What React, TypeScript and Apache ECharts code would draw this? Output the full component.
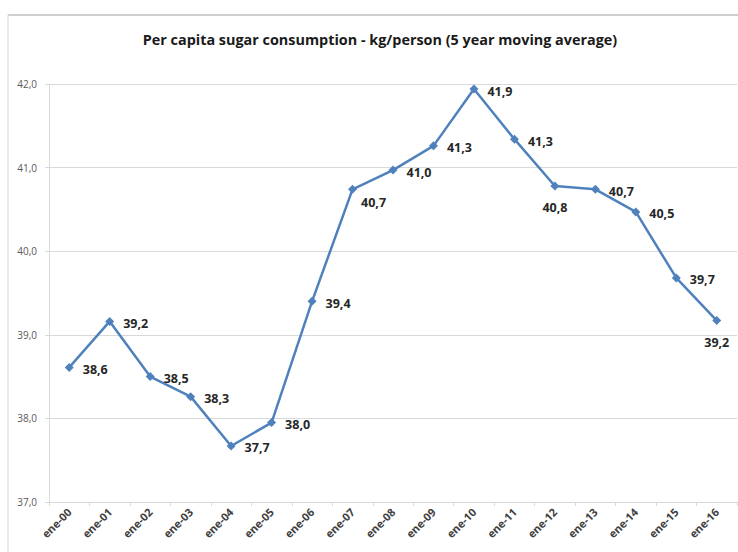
import React, { useEffect, useRef } from "react";
import * as echarts from "echarts";

const TITLE = "Per capita sugar consumption - kg/person (5 year moving average)";
const categories = [
  "ene-00", "ene-01", "ene-02", "ene-03", "ene-04", "ene-05", "ene-06", "ene-07", "ene-08",
  "ene-09", "ene-10", "ene-11", "ene-12", "ene-13", "ene-14", "ene-15", "ene-16",
];
const values = [
  38.61, 39.16, 38.5, 38.26, 37.67, 37.95, 39.4, 40.74, 40.97,
  41.26, 41.94, 41.34, 40.78, 40.74, 40.47, 39.68, 39.17,
];
const yMin = 37;
const yMax = 42;
const yStep = 1;

const fmt = (v: number) => v.toFixed(1).replace(".", ",");

export default function App() {
  const ref = useRef<HTMLDivElement>(null);
  useEffect(() => {
    if (!ref.current) return;
    const chart = echarts.init(ref.current, null, { renderer: "svg" });
    const FONT = "'Open Sans', sans-serif";
    const data = values.map((v, i) => {
      const item: any = { value: v };
      if (i === 7) {
        item.label = { position: "right", offset: [-5, 13] };
      } else if (i === 12 || i === 16) {
        item.label = { position: "bottom", distance: 9 };
      }
      return item;
    });
    chart.setOption({
      animation: false,
      backgroundColor: "#ffffff",
      textStyle: { fontFamily: FONT },
      title: {
        text: TITLE,
        left: 375,
        top: 27,
        textAlign: "center",
        textStyle: { fontFamily: FONT, fontSize: 14.4, fontWeight: "bold", color: "#1a1a1a" },
      },
      graphic: [
        { type: "line", shape: { x1: 8, y1: 15, x2: 738, y2: 15 }, style: { stroke: "#cfcfcf", lineWidth: 2 } },
        { type: "line", shape: { x1: 8, y1: 15, x2: 8, y2: 552 }, style: { stroke: "#e3e3e3", lineWidth: 1.5 } },
      ],
      grid: { left: 49, right: 1, top: 84, bottom: 50 },
      xAxis: {
        type: "category",
        data: categories,
        boundaryGap: true,
        axisLine: { lineStyle: { color: "#d9d9d9", width: 1 } },
        axisTick: { show: true, length: 4, lineStyle: { color: "#d9d9d9" } },
        axisLabel: {
          rotate: 45,
          margin: 8,
          fontSize: 11,
          fontWeight: "bold",
          color: "#404040",
          fontFamily: FONT,
          interval: 0,
        },
      },
      yAxis: {
        type: "value",
        min: yMin,
        max: yMax,
        interval: yStep,
        axisLine: { show: true, lineStyle: { color: "#d9d9d9", width: 1 } },
        axisTick: { show: true, length: 4, lineStyle: { color: "#d9d9d9" } },
        splitLine: { show: true, lineStyle: { color: "#d9d9d9", width: 1 } },
        axisLabel: {
          formatter: (v: number) => fmt(v),
          fontSize: 10,
          color: "#595959",
          margin: 12,
          fontFamily: FONT,
        },
      },
      series: [
        {
          type: "line",
          data,
          color: "#4F81BD",
          lineStyle: { width: 2.5, color: "#4F81BD" },
          symbol: "diamond",
          symbolSize: 9,
          itemStyle: { color: "#4F81BD" },
          label: {
            show: true,
            position: "right",
            distance: 9,
            offset: [0, 2],
            formatter: (p: any) => fmt(p.value),
            fontSize: 12.5,
            fontWeight: "bold",
            color: "#262626",
            fontFamily: FONT,
          },
        },
      ],
    });
    return () => chart.dispose();
  }, []);
  return (
    <div
      ref={ref}
      style={{ position: "fixed", left: 0, top: 0, width: 738, height: 552, background: "#fff" }}
    />
  );
}
